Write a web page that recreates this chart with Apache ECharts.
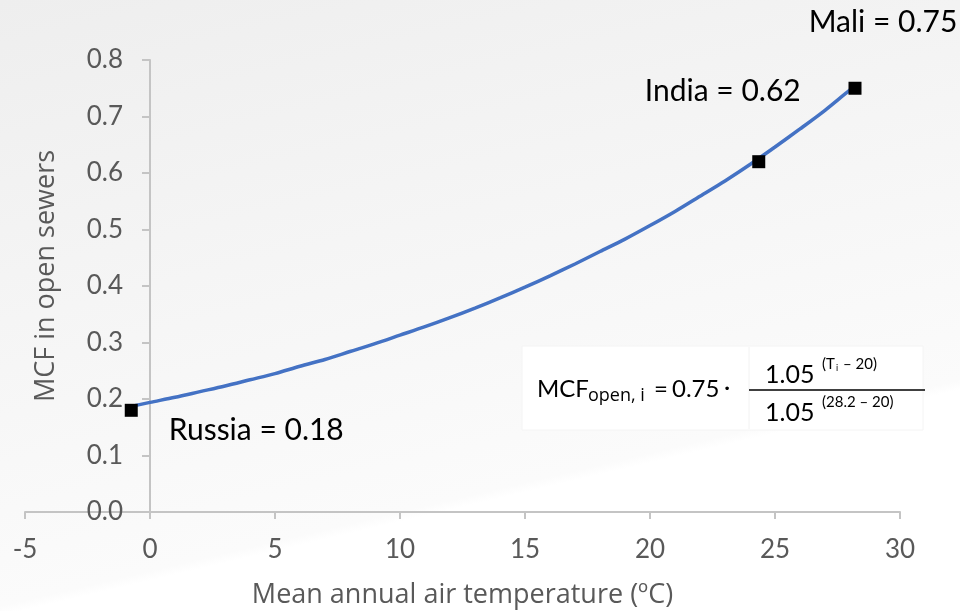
<!DOCTYPE html>
<html>
<head>
<meta charset="utf-8">
<title>MCF in open sewers vs. mean annual air temperature</title>
<script src="https://cdn.jsdelivr.net/npm/echarts@6/dist/echarts.min.js"></script>
<style>
  html, body { margin: 0; padding: 0; background: #ffffff; }
  #chart { width: 960px; height: 611px; }
</style>
</head>
<body>
<div id="chart"></div>
<script>
// Methane correction factor (MCF) of open sewers against mean annual air temperature
const curveTemps = [-0.75, 0, 1, 2, 3, 4, 5, 6, 7, 8, 9, 10, 11, 12, 13, 14,
                    15, 16, 17, 18, 19, 20, 21, 22, 23, 24, 25, 26, 27, 28, 28.2];
const curveMCF   = [0.187, 0.194, 0.203, 0.213, 0.223, 0.234, 0.245, 0.258, 0.270, 0.284, 0.298,
                    0.313, 0.328, 0.344, 0.361, 0.379, 0.398, 0.418, 0.439, 0.461, 0.483,
                    0.507, 0.532, 0.559, 0.586, 0.615, 0.646, 0.678, 0.711, 0.747, 0.753];

// Highlighted countries
const countryNames = ['Russia', 'India', 'Mali'];
const countryTemps = [-0.75, 24.35, 28.2];
const countryMCF   = [0.18, 0.62, 0.75];

// Axis tick settings
const xTicks = { min: -5, max: 30, interval: 5 };
const yTicks = { min: 0, max: 0.8, interval: 0.1 };

const FONT = 'Lato';
const TITLE_FONT = 'Open Sans';
const AXIS_GREY = '#c4c4c4';
const TEXT_GREY = '#595959';

// Grid: x from -5 (left edge) to 30 (right edge); the y axis sits at x = 0
const GRID = { left: 25, right: 60, top: 60, bottom: 99 };
const yAxisShift = (0 - xTicks.min) / (xTicks.max - xTicks.min) * (960 - GRID.left - GRID.right);

// Country label placement relative to each marker
const labelOffsets = [[125, 20], [-36, -70], [28, -66]];

const chart = echarts.init(document.getElementById('chart'), null, { renderer: 'canvas' });

const curveData = curveTemps.map((t, i) => [t, curveMCF[i]]);
const pointData = countryNames.map((n, i) => ({
  name: n,
  value: [countryTemps[i], countryMCF[i]],
  label: { offset: labelOffsets[i] }
}));

const eqText = (text, x, y, size, family) => ({
  type: 'text', x: x, y: y,
  style: {
    text: text, fill: '#000000',
    font: size + 'px "' + (family || FONT) + '"',
    textVerticalAlign: 'middle'
  }
});

chart.setOption({
  animation: false,
  backgroundColor: {
    type: 'linear', x: 0, y: 0, x2: 0.15, y2: 1,
    colorStops: [
      { offset: 0, color: '#eeeeee' },
      { offset: 0.5, color: '#f5f5f5' },
      { offset: 0.94, color: '#fbfbfb' },
      { offset: 0.955, color: '#ffffff' },
      { offset: 1, color: '#ffffff' }
    ]
  },
  grid: Object.assign({ containLabel: false, outerBoundsMode: 'none' }, GRID),
  xAxis: {
    type: 'value',
    min: xTicks.min, max: xTicks.max, interval: xTicks.interval,
    name: 'Mean annual air temperature (ºC)',
    nameLocation: 'middle',
    nameGap: 70,
    nameTextStyle: { fontFamily: TITLE_FONT, fontSize: 27, color: TEXT_GREY },
    axisLine: { onZero: false, lineStyle: { color: AXIS_GREY, width: 2 } },
    axisTick: { show: true, length: 7, inside: false, lineStyle: { color: AXIS_GREY, width: 2 } },
    axisLabel: { fontFamily: FONT, fontSize: 26, color: TEXT_GREY, margin: 25 },
    splitLine: { show: false }
  },
  yAxis: {
    type: 'value',
    position: 'left',
    offset: -yAxisShift,
    min: yTicks.min, max: yTicks.max, interval: yTicks.interval,
    axisLine: { show: true, onZero: false, lineStyle: { color: AXIS_GREY, width: 2 } },
    axisTick: { show: true, length: 8, lineStyle: { color: AXIS_GREY, width: 2 } },
    axisLabel: {
      fontFamily: FONT, fontSize: 26, color: TEXT_GREY, margin: 27,
      formatter: v => v.toFixed(1)
    },
    splitLine: { show: false }
  },
  series: [
    {
      type: 'line',
      data: curveData,
      smooth: 0.3,
      showSymbol: false,
      lineStyle: { color: '#4472c4', width: 3.5 },
      z: 2
    },
    {
      type: 'scatter',
      data: pointData,
      symbol: 'rect',
      symbolSize: 13,
      itemStyle: { color: '#000000', opacity: 1 },
      label: {
        show: true,
        position: 'inside',
        align: 'center',
        verticalAlign: 'middle',
        fontFamily: FONT,
        fontSize: 30,
        color: '#000000',
        formatter: p => p.name + ' = ' + p.value[1].toFixed(2)
      },
      z: 3
    }
  ],
  graphic: [
    {
      type: 'text', x: 46, y: 276, rotation: Math.PI / 2,
      style: {
        text: 'MCF in open sewers', fill: TEXT_GREY, font: '27px "' + TITLE_FONT + '"',
        textAlign: 'center', textVerticalAlign: 'middle'
      }
    },
    {
      type: 'group',
      children: [
        { type: 'rect', shape: { x: 522, y: 346, width: 401, height: 84 },
          style: { fill: '#ffffff', stroke: '#f4f4f4', lineWidth: 1 } },
        { type: 'line', shape: { x1: 749, y1: 347, x2: 749, y2: 429 },
          style: { stroke: '#f2f2f2', lineWidth: 1 } },
        { type: 'line', shape: { x1: 749, y1: 390, x2: 925, y2: 390 },
          style: { stroke: '#000000', lineWidth: 1.5 } },
        eqText('MCF', 537, 389, 24),
        eqText('open, i', 588, 396, 18, TITLE_FONT),
        eqText('=', 654, 389, 24),
        eqText('0.75', 672, 389, 24),
        eqText('·', 724, 387, 24),
        eqText('1.05', 765, 375, 25),
        eqText('(T', 822, 364, 15),
        eqText('i', 836, 368, 9),
        eqText('– 20)', 843, 364, 15),
        eqText('1.05', 765, 413, 25),
        eqText('(28.2 – 20)', 822, 402, 15)
      ]
    }
  ]
});
</script>
</body>
</html>
